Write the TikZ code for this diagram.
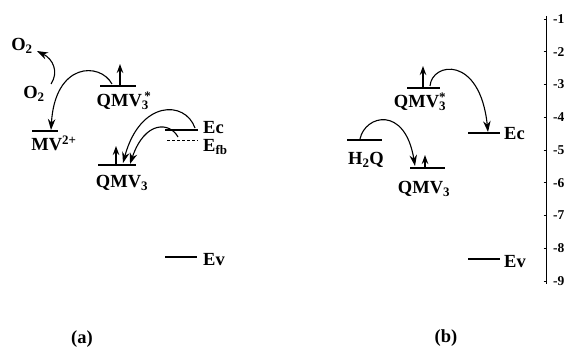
\documentclass[tikz,border=0pt]{standalone}
\usepackage{fontspec}
\setmainfont{Liberation Serif}
\usetikzlibrary{arrows.meta}
\newcommand{\sbsp}[2]{\rlap{\textsubscript{#1}}\textsuperscript{#2}}
\begin{document}
\begin{tikzpicture}[x=1pt,y=-1pt,
  lvl/.style={line width=1.1pt},
  lab/.style={font=\fontsize{18.5}{21}\selectfont\bfseries, inner sep=0pt},
  elab/.style={lab, anchor=west},
  ax/.style={font=\fontsize{13.5}{15}\selectfont\bfseries, inner sep=0pt, anchor=west},
  arr/.style={line width=1.1pt, -{Stealth[length=11pt,width=7.5pt]}},
  spin/.style={line width=1.1pt, -{Stealth[length=9pt,width=6.5pt]}},
]
\useasboundingbox (0,0) rectangle (568,350);

% ---------- panel (a) ----------
\node[lab] (o2up) at (22,46) {O\textsubscript{2}};
\node[lab] (o2lo) at (34,94) {O\textsubscript{2}};
\coordinate (o2s) at (51,84);
\coordinate (o2e) at (37,51);
\draw[arr] (o2s) .. controls (59,72) and (53,59) .. (o2e);

\draw[lvl] (100,86) coordinate (qsA1) -- (136,86) coordinate (qsA2);
\node[lab] (qsAl) at (124,101) {QMV\textsubscript{3}\kern-0.25em\textsuperscript{*}};
\coordinate (qsAb) at (120,86);
\coordinate (qsAt) at (120,64);
\draw[spin] (qsAb) -- (qsAt);

\draw[lvl] (32,131) coordinate (mv1) -- (58,131) coordinate (mv2);
\node[lab] (mvl) at (54,143) {MV\textsuperscript{2+}};

\coordinate (a1s) at (112,84);
\coordinate (a1e) at (51,130);
\draw[arr] (a1s) .. controls (100,62) and (55,62) .. (a1e);

\draw[lvl] (98,165) coordinate (qA1) -- (136,165) coordinate (qA2);
\node[lab] (qAl) at (122,183) {QMV\textsubscript{3}};
\coordinate (qAb) at (116,165);
\coordinate (qAt) at (116,146);
\draw[spin] (qAb) -- (qAt);

\draw[lvl] (165,130) coordinate (ecA1) -- (198,130) coordinate (ecA2);
\node[elab] (ecAl) at (203,128) {Ec};
\draw[line width=0.9pt, dash pattern=on 3pt off 2pt] (167,140) coordinate (efb1) -- (198,140) coordinate (efb2);
\node[elab] (efbl) at (203,147) {E\textsubscript{fb}};

\coordinate (a2s) at (195,128);
\coordinate (a2e) at (123,163);
\draw[arr] (a2s) .. controls (185,100) and (140,100) .. (a2e);
\coordinate (a3s) at (178,137);
\coordinate (a3e) at (130,164);
\draw[arr] (a3s) .. controls (170,122) and (145,120) .. (a3e);

\draw[lvl] (165,257) coordinate (evA1) -- (197,257) coordinate (evA2);
\node[elab] (evAl) at (203,260) {Ev};

\node[lab] (capa) at (82,339) {(a)};

% ---------- panel (b) ----------
\draw[lvl] (407,88) coordinate (qsB1) -- (440,88) coordinate (qsB2);
\node[lab] (qsBl) at (420,102) {QMV\sbsp{3}{*}};
\coordinate (qsBb) at (423,88);
\coordinate (qsBt) at (423,66);
\draw[spin] (qsBb) -- (qsBt);

\draw[lvl] (468,133) coordinate (ecB1) -- (500,133) coordinate (ecB2);
\node[elab] (ecBl) at (504,134) {Ec};
\coordinate (b1s) at (430,86);
\coordinate (b1e) at (488,132);
\draw[arr] (b1s) .. controls (432,62) and (480,55) .. (b1e);

\draw[lvl] (347,140) coordinate (h1) -- (382,140) coordinate (h2);
\node[lab] (hl) at (366,160) {H\textsubscript{2}Q};
\coordinate (b2s) at (360,139);
\coordinate (b2e) at (415,166);
\draw[arr] (b2s) .. controls (365,115) and (405,105) .. (b2e);

\draw[lvl] (410,168) coordinate (qB1) -- (445,168) coordinate (qB2);
\node[lab] (qBl) at (424,189) {QMV\textsubscript{3}};
\coordinate (qBb) at (425,168);
\coordinate (qBt) at (425,155);
\draw[spin] (qBb) -- (qBt);

\draw[lvl] (468,259) coordinate (evB1) -- (500,259) coordinate (evB2);
\node[elab] (evBl) at (504,262) {Ev};

\node[lab] (capb) at (446,338) {(b)};

% ---------- axis ----------
\draw[line width=0.9pt] (546.5,16) coordinate (axt) -- (546.5,284) coordinate (axb);
\foreach \k in {1,...,9}{
  \pgfmathsetmacro{\yy}{19+32.75*(\k-1)}
  \draw[line width=0.9pt] (543.5,\yy) -- (546.5,\yy);
  \node[ax] (t\k) at (553,\yy) {-\k};
}
\end{tikzpicture}
\end{document}
